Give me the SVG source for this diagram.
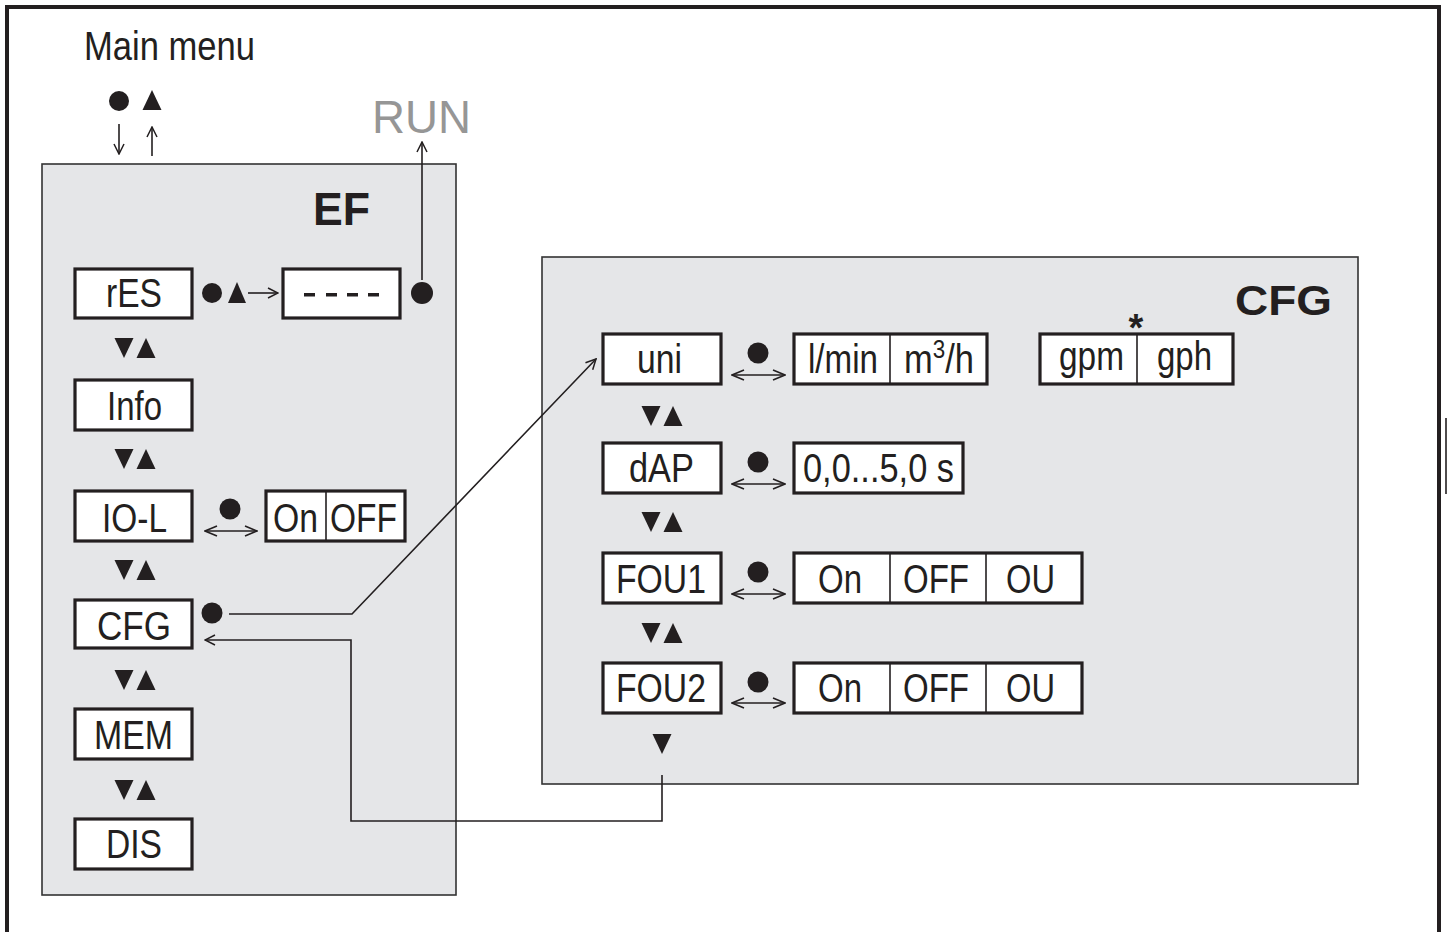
<svg xmlns="http://www.w3.org/2000/svg" width="1447" height="932" viewBox="0 0 1447 932">
<defs>
<marker id="ah" viewBox="0 0 12 12" refX="11" refY="6" markerWidth="12" markerHeight="12" markerUnits="userSpaceOnUse" orient="auto-start-reverse">
<path d="M1,1 L11,6 L1,11" fill="none" stroke="#231f20" stroke-width="1.5"/>
</marker>
<marker id="ahs" viewBox="0 0 14 12" refX="13" refY="6" markerWidth="14" markerHeight="12" markerUnits="userSpaceOnUse" orient="auto-start-reverse">
<path d="M1,1 L13,6 L1,11" fill="none" stroke="#231f20" stroke-width="1.6"/>
</marker>
<g id="dn"><polygon points="-9.5,-10 9.5,-10 0,10" fill="#231f20"/></g>
<g id="up"><polygon points="-9.5,10 9.5,10 0,-10" fill="#231f20"/></g>
</defs>
<style>
.panel{fill:#e5e6e8;stroke:#333;stroke-width:1.6}
.box{fill:#fff;stroke:#231f20;stroke-width:3.2}
.div{stroke:#231f20;stroke-width:1.6}
.t{font-family:"Liberation Sans Narrow","Liberation Sans",Arial,sans-serif;font-size:40px;fill:#231f20}
.b{font-family:"Liberation Sans",Arial,sans-serif;font-weight:bold;fill:#231f20}
.ln{fill:none;stroke:#231f20;stroke-width:1.6}
.dot{fill:#231f20}
</style>
<rect width="1447" height="932" fill="#fff"/>
<!-- outer frame -->
<path d="M7,932 V7 H1439 V932" fill="none" stroke="#231f20" stroke-width="4"/>
<line x1="1446" y1="418" x2="1446" y2="494" stroke="#231f20" stroke-width="1.6"/>

<g id="main-menu">
<text class="t" x="84" y="60" font-size="39" textLength="171" lengthAdjust="spacingAndGlyphs">Main menu</text>
<circle class="dot" cx="119" cy="101" r="10"/>
<use href="#up" x="152" y="100"/>
</g>
<g id="run">
<text x="372" y="133" font-family="Liberation Sans, Arial, sans-serif" font-size="46" fill="#969696" textLength="99" lengthAdjust="spacingAndGlyphs">RUN</text>
</g>

<g id="EF">
<rect class="panel" x="42" y="164" width="414" height="731"/>
<text class="b" x="313" y="225" font-size="46" textLength="57" lengthAdjust="spacingAndGlyphs">EF</text>
</g>
<g id="CFG-panel">
<rect class="panel" x="542" y="257" width="816" height="527"/>
<text class="b" x="1235" y="315" font-size="43" textLength="97" lengthAdjust="spacingAndGlyphs">CFG</text>
</g>

<g id="node-rES">
<rect class="box" x="75" y="269" width="117" height="49"/>
<text class="t" x="106" y="307" textLength="56" lengthAdjust="spacingAndGlyphs">rES</text>
<circle class="dot" cx="212" cy="293" r="10"/>
<polygon points="228,303 246,303 237,282" fill="#231f20"/>
</g>
<g id="node-dashes">
<rect class="box" x="283" y="269" width="117" height="49"/>
<g fill="#231f20"><rect x="304" y="293" width="11" height="3.5"/><rect x="326" y="293" width="11" height="3.5"/><rect x="347" y="293" width="11" height="3.5"/><rect x="368" y="293" width="11" height="3.5"/></g>
<circle class="dot" cx="422" cy="293" r="11"/>
</g>
<use href="#dn" x="124" y="348"/><use href="#up" x="146" y="348"/>
<g id="node-Info">
<rect class="box" x="75" y="380" width="117" height="50"/>
<text class="t" x="107" y="420" textLength="55" lengthAdjust="spacingAndGlyphs">Info</text>
</g>
<use href="#dn" x="124" y="459"/><use href="#up" x="146" y="459"/>
<g id="node-IO-L">
<rect class="box" x="75" y="491" width="117" height="50"/>
<text class="t" x="102" y="532" textLength="65" lengthAdjust="spacingAndGlyphs">IO-L</text>
<circle class="dot" cx="230" cy="509" r="10.5"/>
</g>
<g id="node-IO-L-values">
<rect class="box" x="266" y="491" width="139" height="50"/>
<line class="div" x1="326" y1="491" x2="326" y2="541"/>
<text class="t" x="273" y="532" textLength="45" lengthAdjust="spacingAndGlyphs">On</text>
<text class="t" x="330" y="532" textLength="67" lengthAdjust="spacingAndGlyphs">OFF</text>
</g>
<use href="#dn" x="124" y="570"/><use href="#up" x="146" y="570"/>
<g id="node-CFG">
<rect class="box" x="75" y="600" width="117" height="48"/>
<text class="t" x="97" y="640" textLength="74" lengthAdjust="spacingAndGlyphs">CFG</text>
<circle class="dot" cx="212" cy="613" r="10.5"/>
</g>
<use href="#dn" x="124" y="680"/><use href="#up" x="146" y="680"/>
<g id="node-MEM">
<rect class="box" x="75" y="709" width="117" height="50"/>
<text class="t" x="94" y="749" textLength="79" lengthAdjust="spacingAndGlyphs">MEM</text>
</g>
<use href="#dn" x="124" y="790"/><use href="#up" x="146" y="790"/>
<g id="node-DIS">
<rect class="box" x="75" y="819" width="117" height="50"/>
<text class="t" x="106" y="858" textLength="56" lengthAdjust="spacingAndGlyphs">DIS</text>
</g>

<g id="node-uni">
<rect class="box" x="603" y="334" width="118" height="50"/>
<text class="t" x="637" y="373" textLength="45" lengthAdjust="spacingAndGlyphs">uni</text>
<circle class="dot" cx="758" cy="353" r="10.5"/>
</g>
<g id="node-uni-values">
<rect class="box" x="794" y="334" width="193" height="50"/>
<line class="div" x1="890" y1="334" x2="890" y2="384"/>
<text class="t" x="808" y="373" textLength="70" lengthAdjust="spacingAndGlyphs">l/min</text>
<text class="t" x="904" y="373" textLength="70" lengthAdjust="spacingAndGlyphs">m<tspan font-size="26" dy="-15">3</tspan><tspan dy="15">/h</tspan></text>
</g>
<g id="node-gpm">
<rect class="box" x="1040" y="334" width="193" height="50"/>
<line class="div" x1="1137" y1="334" x2="1137" y2="384"/>
<text class="t" x="1059" y="370" textLength="65" lengthAdjust="spacingAndGlyphs">gpm</text>
<text class="t" x="1157" y="370" textLength="55" lengthAdjust="spacingAndGlyphs">gph</text>
<text x="1136" y="341" text-anchor="middle" font-family="Liberation Sans, Arial, sans-serif" font-weight="bold" font-size="38" fill="#231f20">*</text>
</g>
<use href="#dn" x="651" y="416"/><use href="#up" x="673" y="416"/>
<g id="node-dAP">
<rect class="box" x="603" y="443" width="118" height="50"/>
<text class="t" x="629" y="482" textLength="65" lengthAdjust="spacingAndGlyphs">dAP</text>
<circle class="dot" cx="758" cy="462" r="10.5"/>
</g>
<g id="node-dAP-values">
<rect class="box" x="794" y="443" width="169" height="50"/>
<text class="t" x="803" y="482" textLength="151" lengthAdjust="spacingAndGlyphs">0,0...5,0 s</text>
</g>
<use href="#dn" x="651" y="522"/><use href="#up" x="673" y="522"/>
<g id="node-FOU1">
<rect class="box" x="603" y="553" width="118" height="50"/>
<text class="t" x="616" y="593" textLength="90" lengthAdjust="spacingAndGlyphs">FOU1</text>
<circle class="dot" cx="758" cy="572" r="10.5"/>
</g>
<g id="node-FOU1-values">
<rect class="box" x="794" y="553" width="288" height="50"/>
<line class="div" x1="890" y1="553" x2="890" y2="603"/>
<line class="div" x1="986" y1="553" x2="986" y2="603"/>
<text class="t" x="818" y="593" textLength="44" lengthAdjust="spacingAndGlyphs">On</text>
<text class="t" x="903" y="593" textLength="66" lengthAdjust="spacingAndGlyphs">OFF</text>
<text class="t" x="1006" y="593" textLength="49" lengthAdjust="spacingAndGlyphs">OU</text>
</g>
<use href="#dn" x="651" y="633"/><use href="#up" x="673" y="633"/>
<g id="node-FOU2">
<rect class="box" x="603" y="663" width="118" height="50"/>
<text class="t" x="616" y="702" textLength="90" lengthAdjust="spacingAndGlyphs">FOU2</text>
<circle class="dot" cx="758" cy="682" r="10.5"/>
</g>
<g id="node-FOU2-values">
<rect class="box" x="794" y="663" width="288" height="50"/>
<line class="div" x1="890" y1="663" x2="890" y2="713"/>
<line class="div" x1="986" y1="663" x2="986" y2="713"/>
<text class="t" x="818" y="702" textLength="44" lengthAdjust="spacingAndGlyphs">On</text>
<text class="t" x="903" y="702" textLength="66" lengthAdjust="spacingAndGlyphs">OFF</text>
<text class="t" x="1006" y="702" textLength="49" lengthAdjust="spacingAndGlyphs">OU</text>
</g>
<use href="#dn" x="662" y="744"/>

<g id="connectors">
<line class="ln" x1="119" y1="124" x2="119" y2="154" marker-end="url(#ah)"/>
<line class="ln" x1="152" y1="156" x2="152" y2="127" marker-end="url(#ah)"/>
<line class="ln" x1="422" y1="280" x2="422" y2="142" marker-end="url(#ah)"/>
<line class="ln" x1="248" y1="293" x2="278" y2="293" marker-end="url(#ah)"/>
<line class="ln" x1="205" y1="531" x2="257" y2="531" marker-start="url(#ahs)" marker-end="url(#ahs)"/>
<line class="ln" x1="732" y1="375" x2="785" y2="375" marker-start="url(#ahs)" marker-end="url(#ahs)"/>
<line class="ln" x1="732" y1="484" x2="785" y2="484" marker-start="url(#ahs)" marker-end="url(#ahs)"/>
<line class="ln" x1="732" y1="594" x2="785" y2="594" marker-start="url(#ahs)" marker-end="url(#ahs)"/>
<line class="ln" x1="732" y1="703" x2="785" y2="703" marker-start="url(#ahs)" marker-end="url(#ahs)"/>
<polyline class="ln" points="229,614 352,614 596,359" marker-end="url(#ah)"/>
<polyline class="ln" points="662,775 662,821 351,821 351,640 205,640" marker-end="url(#ah)"/>
</g>
</svg>
